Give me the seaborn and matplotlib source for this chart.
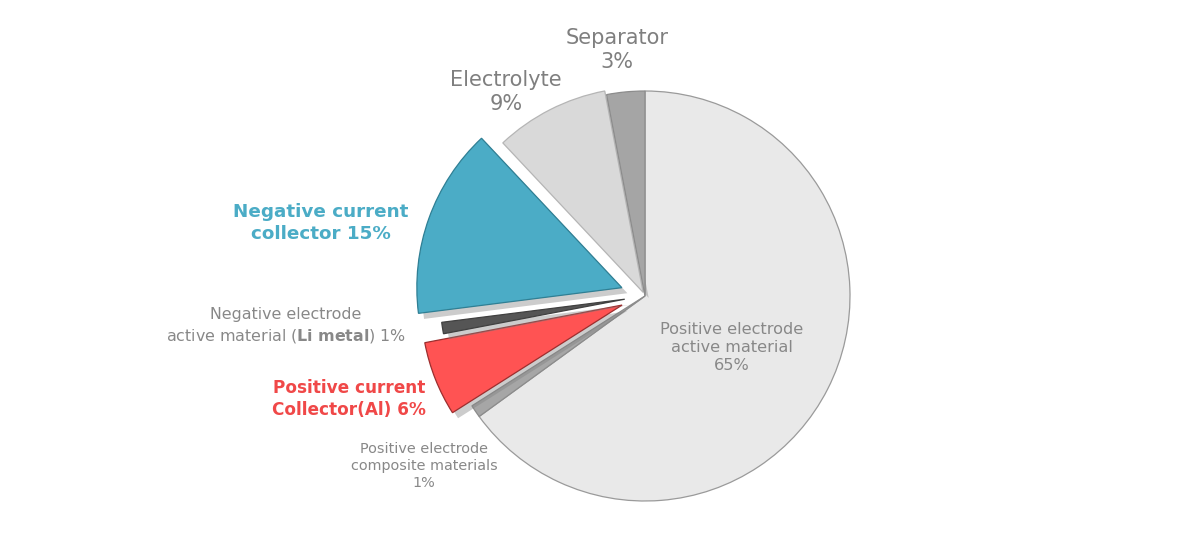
import matplotlib
matplotlib.use("Agg")
import matplotlib.pyplot as plt
import matplotlib.patheffects as pe
import seaborn as sns

# ---- data ----
categories = [
    "Positive electrode active material",
    "Positive electrode composite materials",
    "Positive current Collector(Al)",
    "Negative electrode active material (Li metal)",
    "Negative current collector",
    "Electrolyte",
    "Separator",
]
values = [65, 1, 6, 1, 15, 9, 3]

# ---- style ----
sns.set_theme(style="white")
plt.rcParams["font.family"] = ["DejaVu Sans"]
plt.rcParams["mathtext.fontset"] = "dejavusans"

colors = ["#e9e9e9", "#a6a6a6", "#ff5353", "#555555", "#4bacc6", "#d9d9d9", "#a5a5a5"]
edges = ["#9a9a9a", "#8c8c8c", "#9c2e2e", "#404040", "#2f7f94", "#b5b5b5", "#8c8c8c"]
explode = [0, 0, 0.12, 0.10, 0.12, 0.02, 0]

fig = plt.figure(figsize=(12, 5.45), dpi=100)
ax = fig.add_axes([0, 0, 1, 1])

CX, CY, R = 645, 296, 205  # pie centre / radius in pixels
W, H = 1200, 545

wedges, _ = ax.pie(values, colors=colors, startangle=90, counterclock=False,
                   explode=explode, radius=1.0,
                   wedgeprops=dict(linewidth=0.9))
ax.set_aspect("auto")
ax.set_xlim(-CX / R, (W - CX) / R)
ax.set_ylim(-(H - CY) / R, CY / R)
ax.axis("off")

for w, ec in zip(wedges, edges):
    w.set_edgecolor(ec)
# Li metal strip is drawn shorter in the original
wedges[3].set_radius(0.90)
wedges[2].set_radius(0.98)
shadow = [pe.withSimplePatchShadow(offset=(4, -4), shadow_rgbFace="#808080", alpha=0.4)]
for i in (2, 3, 4, 5):
    wedges[i].set_path_effects(shadow)


def P(x, y):
    return (x - CX) / R, (CY - y) / R


grey = "#888888"
dgrey = "#7f7f7f"

# labels
ax.text(*P(617, 50), f"{categories[6]}\n{values[6]}%", ha="center", va="center",
        fontsize=15, color=dgrey, linespacing=1.25)
ax.text(*P(506, 92), f"{categories[5]}\n{values[5]}%", ha="center", va="center",
        fontsize=15, color=dgrey, linespacing=1.25)
ax.text(*P(321, 223), f"Negative current\ncollector {values[4]}%", ha="center", va="center",
        fontsize=13.2, color="#4bacc6", fontweight="bold", linespacing=1.3)
ax.text(*P(286, 326),
        "Negative electrode\nactive material ($\\mathbf{Li\\ metal}$) " + f"{values[3]}%",
        ha="center", va="center", fontsize=11.4, color=grey, linespacing=1.3)
ax.text(*P(349, 399), f"Positive current\nCollector(Al) {values[2]}%", ha="center", va="center",
        fontsize=12.2, color="#f04848", fontweight="bold", linespacing=1.3)
ax.text(*P(424, 466), f"Positive electrode\ncomposite materials\n{values[1]}%",
        ha="center", va="center", fontsize=10.4, color=grey, linespacing=1.25)
ax.text(*P(732, 347), f"Positive electrode\nactive material\n{values[0]}%",
        ha="center", va="center", fontsize=11.6, color=grey, linespacing=1.25)

fig.savefig("out.png", dpi=100, facecolor="white")
